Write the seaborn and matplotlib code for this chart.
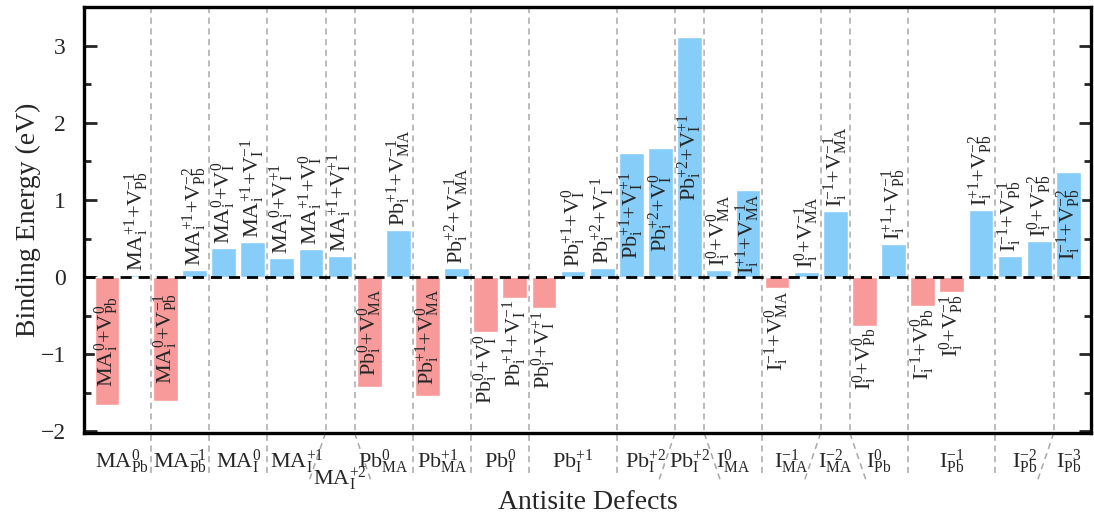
import numpy as np
import pandas as pd
import matplotlib
matplotlib.use("Agg")
import matplotlib.pyplot as plt
import matplotlib.transforms as mtransforms
import seaborn as sns

# ---------------- data ----------------
inter_species = ["MA", "MA", "MA", "MA", "MA", "MA", "MA", "MA", "MA",
                 "Pb", "Pb", "Pb", "Pb", "Pb", "Pb", "Pb", "Pb", "Pb", "Pb", "Pb", "Pb",
                 "I", "I", "I", "I", "I", "I", "I", "I", "I", "I", "I", "I", "I"]
inter_charge = ["0", "+1", "0", "+1", "0", "+1", "0", "+1", "+1",
                "0", "+1", "+1", "+2", "0", "+1", "0", "+1", "+2", "+1", "+2", "+2",
                "0", "+1", "-1", "0", "-1", "0", "+1", "-1", "0", "+1", "-1", "0", "-1"]
vac_site = ["Pb", "Pb", "Pb", "Pb", "I", "I", "I", "I", "I",
            "MA", "MA", "MA", "MA", "I", "I", "I", "I", "I", "I", "I", "I",
            "MA", "MA", "MA", "MA", "MA", "Pb", "Pb", "Pb", "Pb", "Pb", "Pb", "Pb", "Pb"]
vac_charge = ["0", "-1", "-1", "-2", "0", "-1", "+1", "0", "+1",
              "0", "-1", "0", "-1", "0", "-1", "+1", "0", "-1", "+1", "0", "+1",
              "0", "-1", "0", "-1", "-1", "0", "-1", "0", "-1", "-2", "-1", "-2", "-2"]
binding_energy = [-1.66, 0.03, -1.60, 0.09, 0.38, 0.46, 0.245, 0.36, 0.28,
                  -1.43, 0.615, -1.535, 0.12, -0.71, -0.265, -0.40, 0.077, 0.12,
                  1.61, 1.67, 3.11, 0.09, 1.13, -0.145, 0.065, 0.86,
                  -0.63, 0.43, -0.38, -0.19, 0.87, 0.28, 0.465, 1.36]

group_labels = [r"MA$_\mathrm{Pb}^{0}$", r"MA$_\mathrm{Pb}^{-1}$", r"MA$_\mathrm{I}^{0}$",
                r"MA$_\mathrm{I}^{+1}$", r"MA$_\mathrm{I}^{+2}$", r"Pb$_\mathrm{MA}^{0}$",
                r"Pb$_\mathrm{MA}^{+1}$", r"Pb$_\mathrm{I}^{0}$", r"Pb$_\mathrm{I}^{+1}$",
                r"Pb$_\mathrm{I}^{+2}$", r"Pb$_\mathrm{I}^{+2}$", r"I$_\mathrm{MA}^{0}$",
                r"I$_\mathrm{MA}^{-1}$", r"I$_\mathrm{MA}^{-2}$", r"I$_\mathrm{Pb}^{0}$",
                r"I$_\mathrm{Pb}^{-1}$", r"I$_\mathrm{Pb}^{-2}$", r"I$_\mathrm{Pb}^{-3}$"]
group_sizes = [2, 2, 2, 2, 1, 2, 2, 2, 3, 2, 1, 2, 2, 1, 2, 3, 2, 1]

# ---------------- style ----------------
sns.set_theme(style="white")
plt.rcParams["font.family"] = ["Liberation Serif", "DejaVu Serif"]
plt.rcParams["mathtext.fontset"] = "custom"
plt.rcParams["mathtext.rm"] = "Liberation Serif"
plt.rcParams["mathtext.it"] = "Liberation Serif:italic"
plt.rcParams["mathtext.bf"] = "Liberation Serif:bold"

BLUE = "#86CDFA"
RED = "#F89A9A"

combo = [f"{s}$_\\mathrm{{i}}^{{{q}}}$+V$_\\mathrm{{{v}}}^{{{c}}}$"
         for s, q, v, c in zip(inter_species, inter_charge, vac_site, vac_charge)]
df = pd.DataFrame({"pos": np.arange(len(binding_energy)),
                   "energy": binding_energy,
                   "label": combo})
df["sign"] = np.where(df["energy"] < 0, "neg", "pos")

fig = plt.figure(figsize=(10.94, 5.19), dpi=100)
ax = fig.add_axes([0.0768, 0.1657, 0.9205, 0.8208])

sns.barplot(data=df, x="pos", y="energy", hue="sign",
            palette={"neg": RED, "pos": BLUE}, dodge=False, width=0.85,
            legend=False, ax=ax, saturation=1, zorder=2)

n = len(binding_energy)
ax.set_xlim(-0.79, n - 1 + 0.78)
ax.set_ylim(-2.02, 3.5)

# zero line
ax.axhline(0, color="black", lw=2, ls=(0, (4, 2.5)), zorder=4)

# bar labels
LBL = 16
for p, e, lab in zip(df["pos"], df["energy"], df["label"]):
    if abs(e) > 1.0:
        ax.text(p, e / 2, lab, rotation=90, ha="center", va="center",
                fontsize=LBL, zorder=5)
    elif e >= 0:
        ax.text(p, e + 0.05, lab, rotation=90, ha="center", va="bottom",
                fontsize=LBL, zorder=5)
    else:
        ax.text(p, e - 0.03, lab, rotation=90, ha="center", va="top",
                fontsize=LBL, zorder=5)

# group separators and labels
trans = mtransforms.blended_transform_factory(ax.transData, ax.transAxes)
bounds = np.cumsum([0] + group_sizes)
sep_kw = dict(color="#A8A8A8", lw=1.1, ls=(0, (4, 3)), transform=trans,
              clip_on=False, zorder=1)
diag_left = set()
diag_right = set()
for gi, size in enumerate(group_sizes):
    if size == 1:
        diag_left.add(bounds[gi])
        diag_right.add(bounds[gi + 1])
for b in bounds[1:-1]:
    x = b - 0.5
    if b in diag_left:
        ax.plot([x, x], [1, 0], **sep_kw)
        ax.plot([x, x - 0.55], [0, -0.11], **sep_kw)
    elif b in diag_right:
        ax.plot([x, x], [1, 0], **sep_kw)
        ax.plot([x, x + 0.55], [0, -0.11], **sep_kw)
    else:
        ax.plot([x, x], [1, -0.094], **sep_kw)

for gi, lab in enumerate(group_labels):
    center = (bounds[gi] + bounds[gi + 1] - 1) / 2
    y = -0.108 if gi == 4 else -0.066
    ax.text(center, y, lab, transform=trans, ha="center", va="center",
            fontsize=16)

# axes styling
ax.set_xticks([])
ax.set_xlabel("")
ax.set_ylabel("")
ax.set_yticks([-2, -1, 0, 1, 2, 3])
ax.set_yticks(np.arange(-1.5, 3.5, 1.0), minor=True)
ax.tick_params(axis="y", which="major", direction="in", length=9, width=2,
               right=True, left=True, labelsize=17, pad=13)
ax.tick_params(axis="y", which="minor", direction="in", length=5, width=2,
               right=True, left=True)
for s in ax.spines.values():
    s.set_linewidth(2.4)
    s.set_color("black")
    s.set_visible(True)

ax.text(-0.0556, 0.5, "Binding Energy (eV)", rotation=90, ha="center",
        va="center", transform=ax.transAxes, fontsize=20)
ax.text(0.5, -0.164, "Antisite Defects", ha="center", va="center",
        transform=ax.transAxes, fontsize=20)

fig.savefig("out.png", dpi=100)
